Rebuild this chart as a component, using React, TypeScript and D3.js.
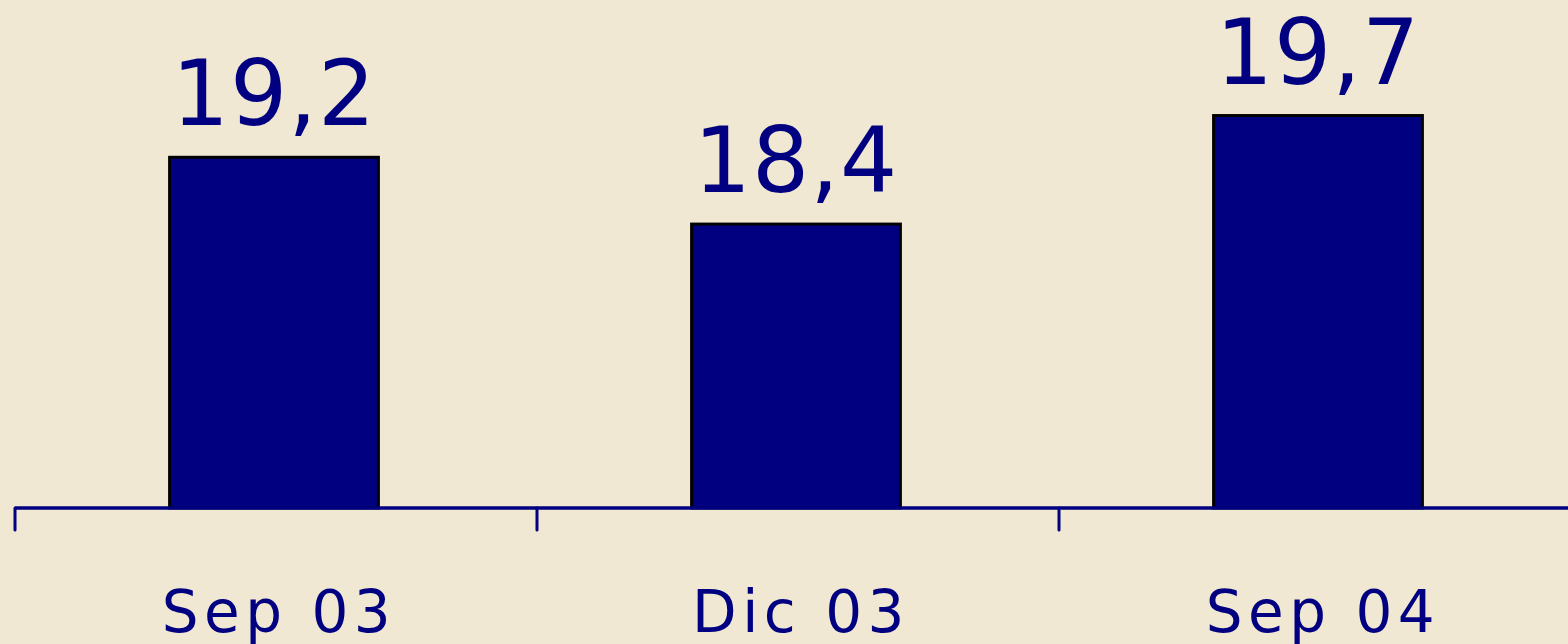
import React from "react";
import * as d3 from "d3";

const categories = ["Sep 03", "Dic 03", "Sep 04"];
const values = [19.2, 18.4, 19.7];
const valueLabels = ["19,2", "18,4", "19,7"];

const W = 1568;
const H = 644;

export default function App() {
  const x = d3.scaleBand<string>().domain(categories).range([15, 1581]).padding(0);
  const y = d3.scaleLinear().domain([15, 21]).range([508, 7]);
  const step = x.step();
  const barW = step * 0.4;
  const navy = "#000080";
  const font = "'DejaVu Sans', Verdana, sans-serif";
  const ticks = [...categories.map((c) => x(c)!), 1581];
  return (
    <svg width={W} height={H} style={{ position: "absolute", left: 0, top: 0 }}>
      <rect x={0} y={0} width={W} height={H} fill="#F0E8D2" />
      {categories.map((c, i) => {
        const cx = x(c)! + step / 2 - 2;
        return (
          <g key={c}>
            <rect
              x={cx - barW / 2}
              y={y(values[i])}
              width={barW}
              height={y(15) - y(values[i])}
              fill={navy}
              stroke="#000"
              strokeWidth={3}
            />
            <text
              x={cx}
              y={y(values[i]) - 32}
              textAnchor="middle"
              fontFamily={font}
              fontSize={90}
              letterSpacing={1}
              fill={navy}
            >
              {valueLabels[i]}
            </text>
            <text
              x={cx + 5}
              y={632}
              textAnchor="middle"
              fontFamily={font}
              fontSize={58}
              letterSpacing={5.5}
              fill={navy}
            >
              {c}
            </text>
          </g>
        );
      })}
      <line x1={15} x2={W} y1={508} y2={508} stroke={navy} strokeWidth={3.5} />
      {ticks.map((t, i) => (
        <line key={i} x1={t} x2={t} y1={508} y2={530} stroke={navy} strokeWidth={3} strokeLinecap="round" />
      ))}
    </svg>
  );
}
